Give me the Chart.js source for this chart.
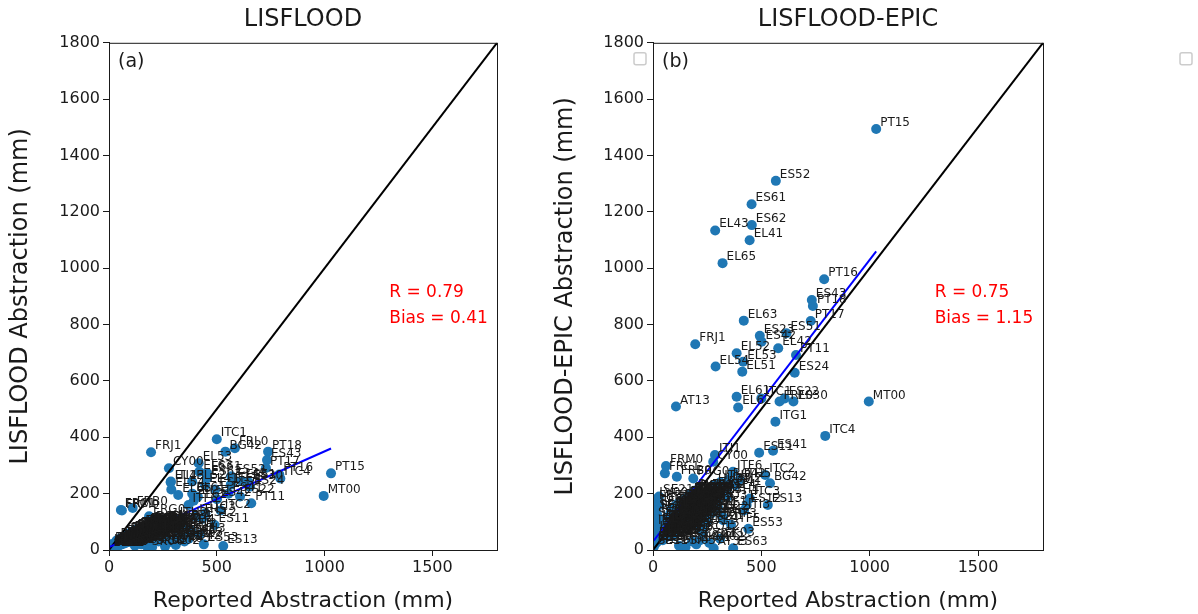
<!DOCTYPE html>
<html>
<head>
<meta charset="utf-8">
<script src="https://cdn.jsdelivr.net/npm/chart.js@4.4.1/dist/chart.umd.min.js"></script>
<style>
  body { margin: 0; background: #fff; width: 1198px; height: 614px; position: relative; overflow: hidden; }
  canvas { position: absolute; top: 0; }
</style>
</head>
<body>
<canvas id="left" width="660" height="614" style="left:0"></canvas>
<canvas id="right" width="653" height="614" style="left:545px"></canvas>
<script>
// NUTS2 regions, reported abstraction (x) and simulated abstraction of both models (mm)
var regions = [
  'PT15','MT00','ITC4','PT16','PT18','ES43','PT17','PT11','ES24','ES30',
  'ES22','EL42','ES52','ITG1','ES41','ES42','ES23','ES51','ITC1','BG42',
  'FRL0','ES61','ES62','EL43','EL41','EL65','EL63','FRJ1','EL52','EL54',
  'EL53','EL51','EL61','EL62','AT13','ES11','ES13','ES12','CY00','ITI1',
  'FRM0','ITF6','ITC2','ITC3','FRF3','ES63','AT33','CZ01','FRB0','FRC1',
  'FRG0','FRE1',
  'ITF1','ITF2','ITF4','ITF5','ITI2','ITI3','ITI4','ITH1','ITH2','ITH3',
  'ITH4','ITH5','ES21','ES53','HU23','HU32','HU33','HU21','HU10','RO11',
  'RO12','RO21','RO22','RO31','RO32','RO41','RO42','SI03','SI04','SK01',
  'SK02','SK03','SK04',
  'IE04','IE05','IE06','LV00','LT01','LT02','EE00','FI19','FI1B','FI1C',
  'FI1D','SE11','SE12','SE21','SE22','SE23','SE31','SE32','SE33',
  'AT11','AT12','AT21','AT22','AT31','AT32','AT34','BE10','BE21','BE22',
  'BE23','BE24','BE25','BE31','BE32','BE33','BE34','BE35','BG31','BG32',
  'BG33','BG34','BG41','CZ02','CZ03','CZ04','CZ05','CZ06','CZ07','CZ08',
  'DE11','DE12','DE13','DE14','DE21','DE22','DE23','DE24','DE25','DE26',
  'DE27','DE30','DE40','DE50','DE60','DE71','DE72','DE73','DE80','DE91',
  'DE92','DE93','DE94','DEA1','DEA2','DEA3','DEA4','DEA5','DEB1','DEB2',
  'DEB3','DEC0','DED2','DED4','DED5','DEE0','DEF0','DEG0','DK01','DK02',
  'DK03','DK04','DK05','HR03','HR04','HU22','HU31',
  'NL11','NL12','NL13','NL21','NL22','NL23','NL31','NL32','NL33','NL34',
  'NL41','NL42','PL21','PL22','PL41','PL42','PL43','PL51','PL52','PL61',
  'PL62','PL63','PL71','PL72','PL81','PL82','PL84','PL91','PL92','UKC1',
  'UKC2','UKD1','UKD3','UKE1','UKF1','UKG1','UKH1','UKJ1','UKK1','UKL1'
];
var reported = [
  1030, 996, 795, 790, 738, 733, 728, 660, 654, 648,
  608, 578, 567, 565, 554, 501, 493, 616, 500, 540,
  584, 455, 456, 287, 446, 321, 419, 195, 386, 289,
  416, 412, 386, 393, 106, 490, 530, 432, 278, 286,
  60, 369, 518, 447, 324, 370, 280, 217, 110, 55,
  186, 9,
  300, 320, 340, 360, 380, 420, 250, 230, 260, 310,
  345, 400, 240, 440, 240, 260, 280, 220, 200, 210,
  230, 250, 270, 300, 215, 330, 350, 150, 120, 200,
  260, 310, 180,
  5, 12, 18, 10, 25, 30, 15, 8, 6, 20,
  4, 3, 14, 28, 35, 22, 10, 5, 3,
  120, 95, 60, 75, 55, 40, 30, 20, 45, 35,
  50, 25, 65, 15, 40, 30, 22, 55, 180, 160,
  140, 200, 130, 85, 100, 70, 90, 110, 125, 80,
  150, 170, 135, 155, 145, 175, 190, 165, 120, 105,
  185, 60, 210, 50, 45, 100, 115, 95, 130, 160,
  140, 190, 170, 140, 150, 125, 115, 105, 135, 120,
  160, 145, 175, 165, 180, 200, 155, 185, 80, 110,
  170, 190, 150, 110, 90, 180, 160,
  70, 85, 60, 95, 110, 75, 50, 130, 145, 160,
  120, 100, 175, 155, 140, 125, 110, 95, 80, 65,
  50, 35, 190, 170, 150, 130, 115, 100, 85, 45,
  60, 75, 90, 105, 120, 135, 150, 165, 180, 195
];
var lisflood = [
  272, 192, 254, 268, 349, 319, 291, 166, 225, 240,
  190, 250, 262, 232, 200, 180, 215, 245, 393, 349,
  361, 273, 255, 243, 230, 195, 278, 347, 243, 215,
  308, 189, 200, 175, 60, 89, 14, 110, 290, 240,
  140, 160, 140, 130, 70, 40, 30, 35, 149, 142,
  120, 20,
  80, 60, 100, 45, 70, 55, 95, 50, 75, 110,
  85, 120, 65, 20, 80, 90, 100, 70, 60, 40,
  30, 45, 25, 35, 55, 50, 30, 20, 15, 10,
  12, 18, 8,
  15, 10, 20, 12, 18, 22, 10, 6, 5, 10,
  3, 4, 8, 15, 18, 12, 6, 3, 2,
  55, 40, 35, 45, 30, 25, 20, 10, 22, 18,
  28, 12, 38, 8, 20, 16, 12, 26, 80, 75,
  70, 95, 60, 40, 48, 36, 42, 52, 58, 38,
  65, 72, 62, 68, 64, 78, 82, 74, 56, 50,
  84, 30, 90, 24, 20, 46, 54, 44, 60, 70,
  66, 88, 80, 62, 66, 58, 52, 48, 60, 55,
  72, 68, 76, 70, 74, 86, 70, 80, 30, 42,
  64, 70, 58, 40, 35, 55, 50,
  25, 30, 22, 35, 40, 28, 18, 45, 50, 55,
  42, 38, 88, 82, 76, 70, 64, 58, 52, 46,
  40, 34, 92, 86, 80, 74, 68, 62, 56, 15,
  20, 24, 28, 32, 36, 38, 44, 48, 52, 58
];
var lisfloodEpic = [
  1494, 527, 405, 961, 866, 887, 813, 692, 629, 527,
  538, 716, 1310, 455, 352, 739, 760, 769, 538, 237,
  527, 1227, 1153, 1134, 1099, 1018, 814, 730, 698, 651,
  668, 633, 544, 506, 509, 345, 160, 160, 313, 337,
  298, 278, 266, 183, 106, 6, 6, 35, 260, 272,
  254, 171,
  150, 120, 210, 90, 230, 140, 180, 110, 200, 240,
  190, 250, 95, 75, 190, 210, 230, 140, 150, 80,
  60, 100, 130, 170, 120, 220, 250, 10, 15, 20,
  25, 40, 30,
  80, 60, 130, 180, 100, 160, 150, 40, 25, 120,
  15, 10, 50, 190, 70, 90, 140, 110, 20,
  140, 110, 90, 120, 85, 70, 55, 30, 60, 48,
  75, 40, 95, 25, 50, 45, 35, 80, 190, 175,
  165, 205, 150, 100, 115, 85, 105, 130, 145, 95,
  160, 180, 150, 170, 155, 185, 200, 175, 135, 125,
  195, 70, 160, 60, 55, 110, 130, 115, 140, 170,
  150, 200, 185, 160, 165, 140, 125, 120, 150, 135,
  170, 155, 190, 175, 185, 205, 165, 195, 90, 120,
  180, 200, 160, 60, 50, 130, 120,
  60, 75, 55, 90, 100, 80, 45, 120, 140, 150,
  110, 95, 200, 185, 170, 160, 150, 140, 130, 115,
  100, 90, 210, 195, 180, 175, 165, 155, 145, 35,
  45, 50, 65, 70, 85, 90, 105, 115, 125, 135
];

// blue regression lines: [slope, intercept]
var fitLisflood = [0.34, 10];
var fitEpic = [1.0, 30];
var statsLisflood = ['R = 0.79', 'Bias = 0.41'];
var statsEpic = ['R = 0.75', 'Bias = 1.15'];
var axisMax = 1800;
var xTickValues = [0, 500, 1000, 1500];
var yTickValues = [0, 200, 400, 600, 800, 1000, 1200, 1400, 1600, 1800];

var FONT = 'DejaVu Sans';
var INK = '#1a1a1a';

// region codes next to every point
var pointLabels = {
  id: 'pointLabels',
  afterDatasetsDraw: function (chart) {
    var ctx = chart.ctx;
    var meta = chart.getDatasetMeta(0);
    ctx.save();
    ctx.font = '12px "' + FONT + '"';
    ctx.fillStyle = INK;
    meta.data.forEach(function (pt, i) {
      ctx.fillText(regions[i], pt.x + 4, pt.y - 3);
    });
    ctx.restore();
  }
};

// frame, panel letter, R / Bias text and the empty legend box
var panelText = {
  id: 'panelText',
  afterDraw: function (chart, args, opts) {
    var ctx = chart.ctx, a = chart.chartArea;
    var xs = chart.scales.x, ys = chart.scales.y;
    ctx.save();
    ctx.strokeStyle = INK;
    ctx.lineWidth = 1;
    ctx.strokeRect(a.left + 0.5, a.top + 0.5, a.right - a.left, a.bottom - a.top);

    ctx.fillStyle = INK;
    ctx.font = '19px "' + FONT + '"';
    ctx.textBaseline = 'middle';
    ctx.fillText(opts.tag, a.left + 9, a.top + 19);

    ctx.fillStyle = '#ff0000';
    ctx.font = '17px "' + FONT + '"';
    ctx.fillText(opts.stats[0], xs.getPixelForValue(1300), ys.getPixelForValue(915));
    ctx.fillText(opts.stats[1], xs.getPixelForValue(1300), ys.getPixelForValue(820));

    ctx.strokeStyle = '#cccccc';
    ctx.lineWidth = 1.5;
    ctx.beginPath();
    ctx.roundRect(a.right + 137, a.top + 10, 12, 12, 2);
    ctx.stroke();
    ctx.restore();
  }
};

function makePanel(id, title, yTitle, yValues, fit, tag, stats, yAxisWidth, padRight) {
  var pts = reported.map(function (x, i) { return { x: x, y: yValues[i] }; });
  var xMin = Math.min.apply(null, reported), xMax = Math.max.apply(null, reported);
  var tickFont = { family: FONT, size: 16 };
  var tickCb = function (v) { return String(v); };

  return new Chart(document.getElementById(id), {
    type: 'scatter',
    data: {
      datasets: [
        { data: pts, backgroundColor: '#1f77b4', borderWidth: 0, pointRadius: 5, order: 3, clip: 0 },
        { data: [{ x: 0, y: 0 }, { x: axisMax, y: axisMax }], showLine: true, borderColor: '#000',
          borderWidth: 2, pointRadius: 0, order: 2, clip: 0 },
        { data: [{ x: xMin, y: fit[1] + fit[0] * xMin }, { x: xMax, y: fit[1] + fit[0] * xMax }],
          showLine: true, borderColor: '#0000ff', borderWidth: 2, pointRadius: 0, order: 1, clip: 0 }
      ]
    },
    options: {
      responsive: false,
      animation: false,
      layout: { padding: { left: 0, right: padRight, top: 0, bottom: 0 } },
      plugins: {
        legend: { display: false },
        tooltip: { enabled: false },
        title: { display: true, text: title, fullSize: false, color: INK,
                 font: { family: FONT, size: 24, weight: 'normal' }, padding: { top: 5, bottom: 9 } },
        panelText: { tag: tag, stats: stats }
      },
      scales: {
        x: {
          min: 0, max: axisMax,
          afterBuildTicks: function (s) { s.ticks = xTickValues.map(function (v) { return { value: v }; }); },
          ticks: { color: INK, font: tickFont, padding: 2, maxRotation: 0, callback: tickCb },
          grid: { drawOnChartArea: false, drawTicks: true, tickLength: 6, color: INK },
          border: { display: true, color: INK },
          title: { display: true, text: 'Reported Abstraction (mm)', color: INK,
                   font: { family: FONT, size: 22 }, padding: { top: 0, bottom: 0 } },
          afterFit: function (s) { s.height = 64; }
        },
        y: {
          min: 0, max: axisMax,
          afterBuildTicks: function (s) { s.ticks = yTickValues.map(function (v) { return { value: v }; }); },
          ticks: { color: INK, font: tickFont, padding: 3, callback: tickCb },
          grid: { drawOnChartArea: false, drawTicks: true, tickLength: 6, color: INK },
          border: { display: true, color: INK },
          title: { display: true, text: yTitle, color: INK,
                   font: { family: FONT, size: 24 }, padding: { top: 6, bottom: 0 } },
          afterFit: function (s) { s.width = yAxisWidth; }
        }
      }
    },
    plugins: [pointLabels, panelText]
  });
}

makePanel('left', 'LISFLOOD', 'LISFLOOD Abstraction (mm)', lisflood, fitLisflood, '(a)', statsLisflood, 109, 163);
makePanel('right', 'LISFLOOD-EPIC', 'LISFLOOD-EPIC Abstraction (mm)', lisfloodEpic, fitEpic, '(b)', statsEpic, 108, 155);
</script>
</body>
</html>
